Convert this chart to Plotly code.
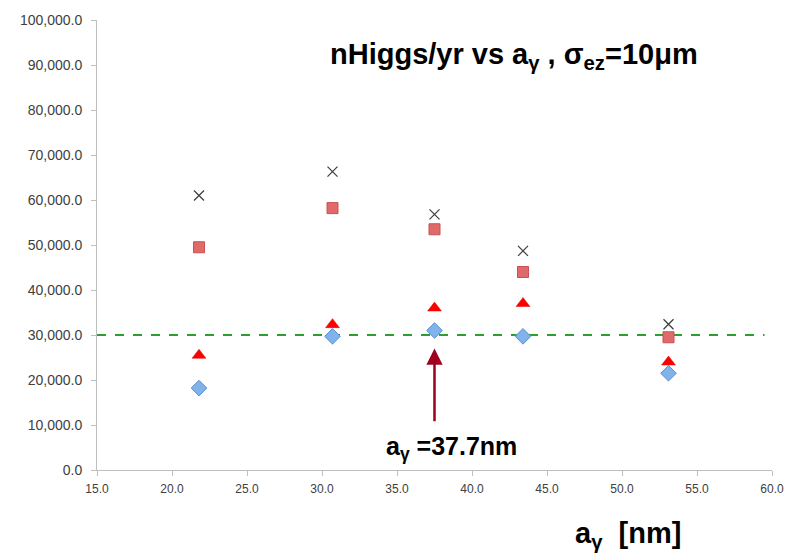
import plotly.graph_objects as go

a_gamma = [21.8, 30.7, 37.5, 43.4, 53.1]
s_cross = [61000, 66300, 56800, 48700, 32400]
s_square = [49500, 58200, 53500, 44000, 29500]
s_triangle = [25500, 32300, 36000, 37000, 24000]
s_diamond = [18200, 29700, 31000, 29700, 21500]
target = 30000
y_ticks = [0, 10000, 20000, 30000, 40000, 50000, 60000, 70000, 80000, 90000, 100000]
x_ticks = [15, 20, 25, 30, 35, 40, 45, 50, 55, 60]

PL, PR, PT, PB = 97, 796 - 18, 15, 557 - 87


def px_to_paper(px, py):
    return (px - PL) / (PR - PL), (PB - py) / (PB - PT)


fig = go.Figure()
fig.add_trace(go.Scatter(x=[15, 59.5], y=[target, target], mode="lines",
                         line=dict(color="#2ca02c", width=2, dash="dash"), showlegend=False))
fig.add_trace(go.Scatter(x=a_gamma, y=s_diamond, mode="markers",
                         marker=dict(symbol="diamond", size=12, color="#80b3ea",
                                     line=dict(color="#5b8fd0", width=1)), showlegend=False))
fig.add_trace(go.Scatter(x=a_gamma, y=s_triangle, mode="markers",
                         marker=dict(symbol="triangle-up", size=12, color="#ff0000",
                                     line=dict(color="#e00000", width=0.5)), showlegend=False))
fig.add_trace(go.Scatter(x=a_gamma, y=s_square, mode="markers",
                         marker=dict(symbol="square", size=11, color="#e06a6a",
                                     line=dict(color="#c85050", width=1)), showlegend=False))
fig.add_trace(go.Scatter(x=a_gamma, y=s_cross, mode="markers",
                         marker=dict(symbol="x-thin", size=10, color="#404040",
                                     line=dict(color="#404040", width=1.3)), showlegend=False))

fig.add_annotation(x=a_gamma[2], y=27000, ax=a_gamma[2], ay=10500,
                   xref="x", yref="y", axref="x", ayref="y",
                   showarrow=True, arrowhead=2, arrowsize=1.3, arrowwidth=2.5,
                   arrowcolor="#a0001e", text="")
fig.add_annotation(x=38.6, y=4800, xref="x", yref="y", showarrow=False,
                   text="<b>a<sub>γ</sub> =37.7nm</b>",
                   font=dict(family="Liberation Sans, Arial", size=25, color="#000000"))

tx, ty = px_to_paper(518, 31)
fig.add_annotation(x=tx, y=ty, xref="paper", yref="paper", showarrow=False,
                   text="<b>nHiggs/yr vs a<sub>γ</sub> , σ<sub>ez</sub>=10μm</b>",
                   font=dict(family="Liberation Sans, Arial", size=29, color="#000000"))
lx, ly = px_to_paper(688, 556)
fig.add_annotation(x=lx, y=ly, xref="paper", yref="paper", showarrow=False,
                   text="<b>a<sub>γ</sub>  [nm]</b>",
                   font=dict(family="Liberation Sans, Arial", size=29, color="#000000"))

fig.update_layout(
    width=796, height=557,
    margin=dict(l=PL, r=18, t=PT, b=87),
    paper_bgcolor="white", plot_bgcolor="white",
    font=dict(family="Liberation Sans, Arial", color="#595959"),
)

fig.update_xaxes(range=[15, 60], tickvals=x_ticks, ticktext=[f"{v:.1f}" for v in x_ticks],
                 showgrid=False, zeroline=False, showline=True, linecolor="#bfbfbf",
                 ticks="outside", ticklen=5, tickcolor="#bfbfbf", ticklabelstandoff=3,
                 tickfont=dict(size=12, color="#404040"))
fig.update_yaxes(range=[0, 100000], tickvals=y_ticks, ticktext=[f"{v:,.1f}" for v in y_ticks],
                 showgrid=False, zeroline=False, showline=True, linecolor="#bfbfbf",
                 ticks="outside", ticklen=5, tickcolor="#bfbfbf", ticklabelstandoff=6,
                 tickfont=dict(size=14, color="#404040"))

fig.write_html("out.html")
